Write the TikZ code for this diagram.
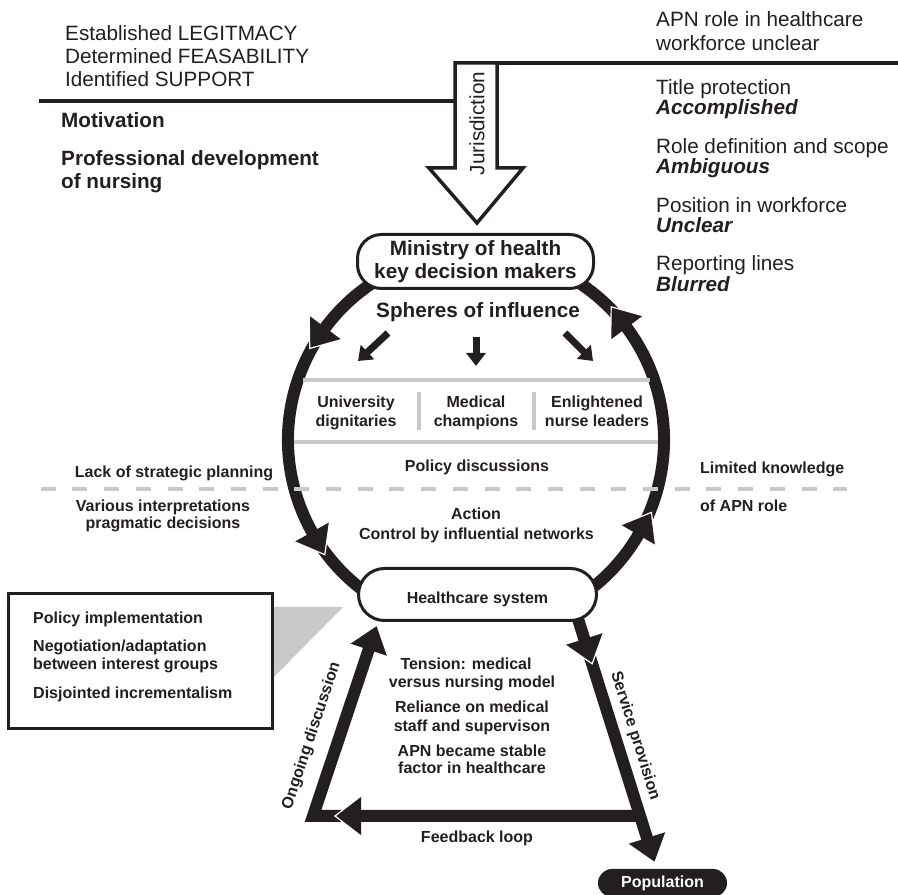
\documentclass[tikz,border=0pt]{standalone}
\usepackage{fontspec}
\setmainfont{Liberation Sans}
\usetikzlibrary{arrows.meta,calc}
\pgfdeclarelayer{bg}
\pgfsetlayers{bg,main}
\definecolor{ink}{HTML}{231F20}
\definecolor{softgray}{HTML}{C8C9CB}

\begin{document}
\begin{tikzpicture}[x=1pt,y=1pt,
  every node/.style={inner sep=0pt, text=ink},
  lbig/.style={font=\fontsize{20.7}{23}\selectfont},
  lbold/.style={font=\fontsize{20.7}{23}\selectfont\bfseries},
  lemph/.style={font=\fontsize{20.7}{23}\selectfont\bfseries\itshape},
  lsmall/.style={font=\fontsize{16}{19}\selectfont\bfseries},
  capsule/.style={draw=ink, line width=3pt, fill=white},
  ring/.style={draw=ink, line width=12pt},
  barline/.style={draw=ink, line width=3.5pt},
  grayrule/.style={draw=softgray, line width=3.5pt},
  smallarrow/.style={draw=ink, line width=7pt, -{Triangle[length=13pt,width=19pt]}},
  bighead/.pic={
    \fill[ink] (0,20) -- (26,0) -- (0,-20) -- cycle;
    \draw[white, line width=1.2pt] (0,20) -- (26,0) -- (0,-20);
  }
]
\useasboundingbox (0,0) rectangle (898,895);

% ---------- header texts ----------
\node[lbig, anchor=base west] (legit) at (65,854.5) {Established LEGITMACY};
\node[lbig, anchor=base west] (feas)  at (65,831.5) {Determined FEASABILITY};
\node[lbig, anchor=base west] (supp)  at (65,808.5) {Identified SUPPORT};
\node[lbold, anchor=base west] (motiv) at (61,767) {Motivation};
\node[lbold, anchor=base west] (prof1) at (61,729) {Professional development};
\node[lbold, anchor=base west] (prof2) at (61,706) {of nursing};

\node[lbig, anchor=base west] (apn1) at (656,868) {APN role in healthcare};
\node[lbig, anchor=base west] (apn2) at (656,844.5) {workforce unclear};
\node[lbig, anchor=base west] (tp1) at (656,800) {Title protection};
\node[lemph, anchor=base west] (tp2) at (656,780) {Accomplished};
\node[lbig, anchor=base west] (rd1) at (656,741) {Role definition and scope};
\node[lemph, anchor=base west] (rd2) at (656,721) {Ambiguous};
\node[lbig, anchor=base west] (pw1) at (656,682) {Position in workforce};
\node[lemph, anchor=base west] (pw2) at (656,662) {Unclear};
\node[lbig, anchor=base west] (rl1) at (656,624) {Reporting lines};
\node[lemph, anchor=base west] (rl2) at (656,603) {Blurred};

% ---------- divider lines and jurisdiction arrow ----------
\coordinate (lineL) at (39,794);
\coordinate (lineR) at (898,832);
\draw[barline, fill=white, line join=miter]
  (455,832) coordinate (shaftTL) -- (497,832) coordinate (shaftTR) -- (497,727) -- (523,727)
  -- (477,672) coordinate (jurTip) -- (429,727) -- (455,727) -- cycle;
\draw[barline] (lineL) -- (455,794);
\draw[barline] (shaftTR) -- (lineR);
\node[lbig, rotate=90] (jur) at (477,771.5) {Jurisdiction};

% ---------- main nodes ----------
\node[capsule, rounded corners=24pt, minimum width=236pt, minimum height=54pt,
      lbold, align=center] (moh) at (475.5,633.5) {Ministry of health\\key decision makers};
\node[capsule, rounded corners=26pt, minimum width=238pt, minimum height=52pt,
      lsmall, text height=19pt, text depth=0pt] (hc) at (477.5,300.5) {Healthcare system};
\node[fill=ink, text=white, rounded corners=14pt, minimum width=129pt, minimum height=28pt,
      lsmall] (pop) at (662.5,12) {Population};

% ---------- spheres of influence ----------
\node[lbold, anchor=base] (sph) at (478,577) {Spheres of influence};
\coordinate (saL0) at (388,562); \coordinate (saL1) at (358,534);
\coordinate (saM0) at (476,558); \coordinate (saM1) at (476,529);
\coordinate (saR0) at (565,562); \coordinate (saR1) at (593,534);
\draw[smallarrow] (saL0) -- (saL1);
\draw[smallarrow] (saM0) -- (saM1);
\draw[smallarrow] (saR0) -- (saR1);

\draw[grayrule] (303,515) -- (650,515);
\draw[grayrule] (294,453) -- (658,453);
\draw[grayrule] (419,503) -- (419,465);
\draw[grayrule] (534,503) -- (534,465);

\node[lsmall, anchor=base] (uni1) at (356,487) {University};
\node[lsmall, anchor=base] (uni2) at (356,468) {dignitaries};
\node[lsmall, anchor=base] (med1) at (476,487) {Medical};
\node[lsmall, anchor=base] (med2) at (476,468) {champions};
\node[lsmall, anchor=base] (enl1) at (597,487) {Enlightened};
\node[lsmall, anchor=base] (enl2) at (597,468) {nurse leaders};
\node[lsmall, anchor=base] (pold) at (477,423) {Policy discussions};
\node[lsmall, anchor=base] (act1) at (476,375) {Action};
\node[lsmall, anchor=base] (act2) at (476.5,355) {Control by influential networks};

% ---------- side remarks and dashed divider ----------
\draw[draw=softgray, line width=4pt, dash pattern=on 15pt off 16.7pt] (40.7,406) -- (847,406);
\node[lsmall, anchor=base] (lack) at (174,417) {Lack of strategic planning};
\node[lsmall, anchor=base] (var1) at (163,383) {Various interpretations};
\node[lsmall, anchor=base] (var2) at (163,366) {pragmatic decisions};
\node[lsmall, anchor=base west] (lim1) at (700,421) {Limited knowledge};
\node[lsmall, anchor=base west] (lim2) at (700,383) {of APN role};

% ---------- policy box ----------
\node[draw=ink, line width=3pt, fill=white, minimum width=264pt, minimum height=135pt]
  (pbox) at (140.5,234) {};
\node[lsmall, anchor=base west] (pb1) at (33,271) {Policy implementation};
\node[lsmall, anchor=base west] (pb2) at (33,243) {Negotiation/adaptation};
\node[lsmall, anchor=base west] (pb3) at (33,225) {between interest groups};
\node[lsmall, anchor=base west] (pb4) at (33,196) {Disjointed incrementalism};

% ---------- lower trapezoid texts ----------
\node[lsmall, anchor=base] (tz1) at (466,225) {Tension: medical};
\node[lsmall, anchor=base] (tz2) at (472,207) {versus nursing model};
\node[lsmall, anchor=base] (tz3) at (472,182) {Reliance on medical};
\node[lsmall, anchor=base] (tz4) at (472,163) {staff and supervison};
\node[lsmall, anchor=base] (tz5) at (472,138) {APN became stable};
\node[lsmall, anchor=base] (tz6) at (472,121) {factor in healthcare};
\node[lsmall, rotate=71.5] (ogl) at (311.7,159.2) {Ongoing discussion};
\node[lsmall, rotate=-72.5] (spl) at (635,159) {Service provision};
\node[lsmall, anchor=base] (fbl) at (477,52) {Feedback loop};

% ---------- connectors (below the nodes) ----------
\begin{pgfonlayer}{bg}
  % callout wedge from the policy box to the healthcare system
  \fill[softgray] (pbox.east |- 0,288) -- (343,288) -- (pbox.east |- 0,218) -- cycle;

  % the influence cycle
  \coordinate (C) at (476,455);
  \draw[ring] ($(C)+(110:188)$) arc[start angle=110, end angle=245, radius=188];
  \draw[ring] ($(C)+(-65:188)$) arc[start angle=-65, end angle=70, radius=188];
  \foreach \a in {143.3,209.3,-30.3,36.7}
    \pic[rotate=\a+90] at ($(C)+(\a:188)$) {bighead};

  % service provision, feedback loop and ongoing discussion
  \coordinate (spA) at (572,295);
  \coordinate (spEnd) at (649.4,49.4);
  \coordinate (fbR) at (640.1,79);
  \coordinate (fbL) at (313,79);
  \coordinate (ogEnd) at (371.2,252.9);
  \draw[ring] (spA) -- (spEnd);
  \draw[ring, line join=miter] (fbR) -- (fbL) -- (ogEnd);
  \pic[rotate=-72.5] at (584.3,256) {bighead};
  \pic[rotate=-72.5] at (647,57) {bighead};
  \pic[rotate=180] at (361,79) {bighead};
  \pic[rotate=71.5] at (368.7,245.3) {bighead};
\end{pgfonlayer}
\end{tikzpicture}
\end{document}
